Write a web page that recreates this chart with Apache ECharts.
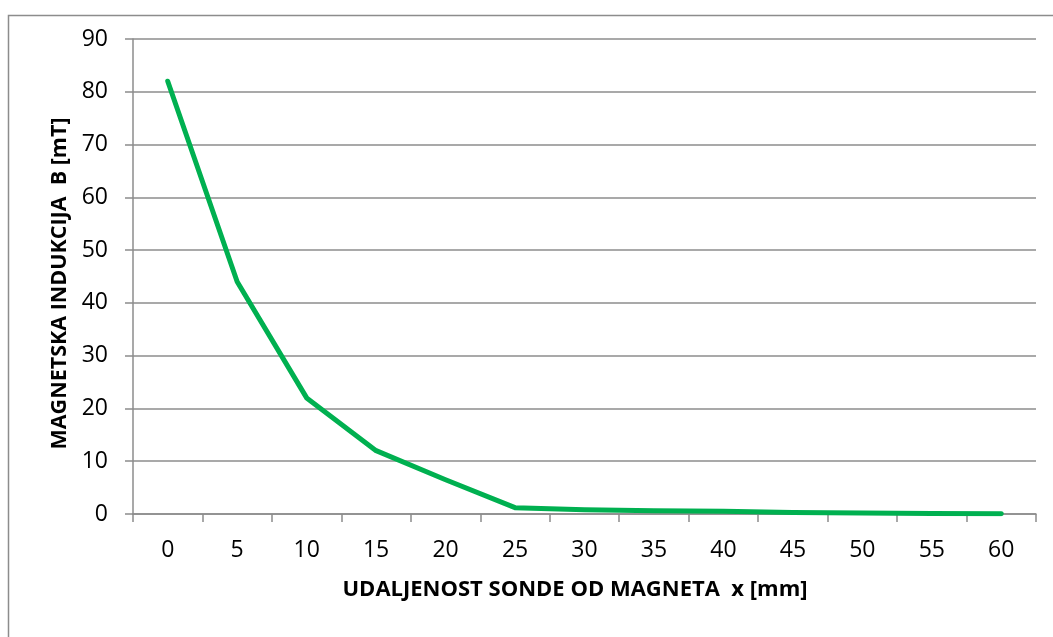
<!DOCTYPE html>
<html>
<head>
<meta charset="utf-8">
<script src="https://cdn.jsdelivr.net/npm/echarts@6/dist/echarts.min.js"></script>
<style>
  html, body { margin: 0; padding: 0; background: #fff; }
  #chart { width: 1053px; height: 637px; }
</style>
</head>
<body>
<div id="chart"></div>
<script>
// Distance of the probe from the magnet [mm]
const distances = ['0', '5', '10', '15', '20', '25', '30', '35', '40', '45', '50', '55', '60'];
// Measured magnetic induction [mT]
const induction = [82, 44, 22, 12, 6.5, 1.2, 0.8, 0.6, 0.5, 0.3, 0.2, 0.1, 0.05];

const xTitle = 'UDALJENOST SONDE OD MAGNETA  x [mm]';
const yTitle = 'MAGNETSKA INDUKCIJA  B [mT]';

const FONT = '"Open Sans", "Noto Sans", sans-serif';
const GRID_COLOR = '#8c8c8c';

const chart = echarts.init(document.getElementById('chart'), null, { renderer: 'canvas' });

chart.setOption({
  backgroundColor: '#ffffff',
  animation: false,
  graphic: [{
    type: 'rect',
    shape: { x: 8.5, y: 15.5, width: 1200, height: 800 },
    style: { fill: 'none', stroke: '#8c8c8c', lineWidth: 1.5 },
    silent: true,
    z: -10
  }],
  grid: { left: 133, right: 17, top: 39, bottom: 123, containLabel: false },
  xAxis: {
    type: 'category',
    data: distances,
    boundaryGap: true,
    name: xTitle,
    nameLocation: 'middle',
    nameGap: 65,
    nameTextStyle: { fontFamily: FONT, fontSize: 22, fontWeight: 'bold', color: '#000', padding: [0, 19, 0, 0] },
    axisLine: { lineStyle: { color: GRID_COLOR, width: 1.5 } },
    axisTick: { show: true, length: 8, lineStyle: { color: GRID_COLOR, width: 1.5 } },
    axisLabel: { fontFamily: FONT, fontSize: 23, color: '#000', margin: 25 },
    splitLine: { show: false }
  },
  yAxis: {
    type: 'value',
    min: 0,
    max: 90,
    interval: 10,
    name: yTitle,
    nameLocation: 'middle',
    nameGap: 60,
    nameRotate: 90,
    nameTextStyle: { fontFamily: FONT, fontSize: 21.5, fontWeight: 'bold', color: '#000', padding: [0, 14, 0, 0] },
    axisLine: { show: true, lineStyle: { color: GRID_COLOR, width: 1.5 } },
    axisTick: { show: true, inside: false, length: 8, lineStyle: { color: GRID_COLOR, width: 1.5 } },
    axisLabel: { fontFamily: FONT, fontSize: 23, color: '#000', margin: 25 },
    splitLine: { show: true, lineStyle: { color: GRID_COLOR, width: 1.5 } }
  },
  series: [{
    type: 'line',
    data: induction,
    showSymbol: false,
    symbol: 'none',
    smooth: false,
    lineStyle: { color: '#00B050', width: 5, cap: 'round', join: 'round' },
    itemStyle: { color: '#00B050' }
  }]
});
</script>
</body>
</html>
